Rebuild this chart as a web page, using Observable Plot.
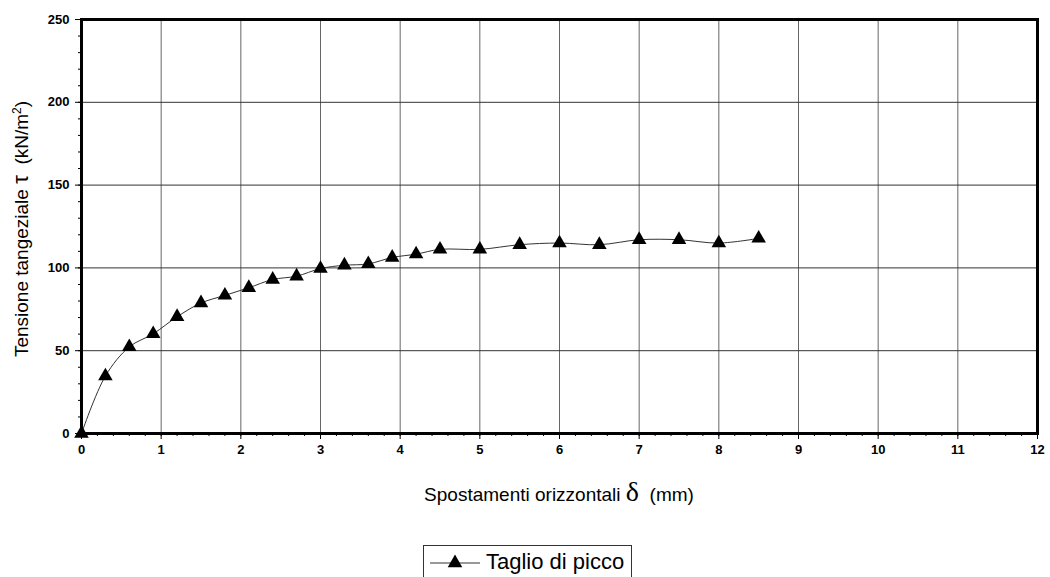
<!DOCTYPE html>
<html>
<head>
<meta charset="utf-8">
<script src="https://cdn.jsdelivr.net/npm/d3@7"></script>
<script src="https://cdn.jsdelivr.net/npm/@observablehq/plot@0.6"></script>
<style>
  html, body { margin: 0; padding: 0; background: #fff; }
  body { width: 1050px; height: 577px; overflow: hidden; font-family: "Liberation Sans", Arial, sans-serif; }
  #chart svg { display: block; }
  #chart svg g[aria-label$="tick label"] text { font-weight: bold; font-size: 13px; }
  #legend {
    margin-left: 423px; margin-top: 10px; width: 207px; height: 40px;
    border: 1px solid #333; box-sizing: content-box; display: flex; align-items: flex-start;
  }
  #legend svg { margin-top: 7px; margin-left: 6px; }
  #legend span { font-size: 22px; margin-left: 6px; margin-top: 3px; color: #000; }
</style>
</head>
<body>
<div id="chart"></div>
<div id="legend"></div>
<script>
// Data
const seriesName = "Taglio di picco";
const displacement = [0, 0.3, 0.6, 0.9, 1.2, 1.5, 1.8, 2.1, 2.4, 2.7, 3.0, 3.3, 3.6, 3.9, 4.2, 4.5, 5.0, 5.5, 6.0, 6.5, 7.0, 7.5, 8.0, 8.5];
const shearStress  = [0, 34.7, 52.3, 60.2, 70.5, 78.8, 83.4, 88.0, 93.0, 95.0, 99.6, 101.6, 102.4, 106.3, 108.3, 111.2, 111.2, 114.0, 115.0, 114.0, 117.0, 117.0, 115.0, 117.8];
const xTicks = [0, 1, 2, 3, 4, 5, 6, 7, 8, 9, 10, 11, 12];
const yTicks = [0, 50, 100, 150, 200, 250];
const xMinorStep = 0.2;
const yMinorStep = 10;

const data = displacement.map((x, i) => ({x, y: shearStress[i]}));
const xMinor = d3.range(0, 12 + 1e-9, xMinorStep);
const yMinor = d3.range(0, 250 + 1e-9, yMinorStep);

const W = 1050, H = 535, mL = 81, mR = 13, mT = 19, mB = 102;

const chart = Plot.plot({
  width: W, height: H,
  marginLeft: mL, marginRight: mR, marginTop: mT, marginBottom: mB,
  style: {fontFamily: "Liberation Sans, Arial, sans-serif", fontSize: "13px", color: "#000", background: "#fff"},
  x: {domain: [0, 12]},
  y: {domain: [0, 250]},
  marks: [
    Plot.gridX(xTicks, {stroke: "#666", strokeOpacity: 1, strokeWidth: 1}),
    Plot.gridY(yTicks, {stroke: "#333", strokeOpacity: 1, strokeWidth: 1}),
    Plot.axisX(xMinor, {tickSize: 3, text: null, label: null, stroke: "#000"}),
    Plot.axisX(xTicks, {tickSize: 6, tickPadding: 5, label: null, stroke: "#000", fontSize: 13, fontWeight: "bold", tickFormat: d => String(d)}),
    Plot.axisY(yMinor, {tickSize: 3, text: null, label: null, stroke: "#000"}),
    Plot.axisY(yTicks, {tickSize: 6, tickPadding: 6, label: null, stroke: "#000", fontSize: 13, fontWeight: "bold", tickFormat: d => String(d)}),
    Plot.line(data, {x: "x", y: "y", curve: "catmull-rom", stroke: "#333", strokeWidth: 1}),
    Plot.dot(data, {x: "x", y: "y", symbol: "triangle", r: 5.4, fill: "#000", stroke: "none"}),
    Plot.frame({stroke: "#000", strokeWidth: 3})
  ]
});
document.getElementById("chart").appendChild(chart);

// Axis titles with mixed glyph sizes
const svg = d3.select(chart);
const xt = svg.append("text")
  .attr("x", mL + (W - mL - mR) / 2).attr("y", 501)
  .attr("text-anchor", "middle")
  .style("font-family", "Liberation Sans, Arial, sans-serif")
  .style("font-size", "19px").style("white-space", "pre").attr("fill", "#000");
xt.append("tspan").text("Spostamenti orizzontali ");
xt.append("tspan").style("font-family", "Liberation Serif, serif").style("font-size", "28px").text("δ");
xt.append("tspan").text("  (mm)");

const yt = svg.append("text")
  .attr("transform", `translate(28, ${mT + (H - mT - mB) / 2 + 3}) rotate(-90)`)
  .attr("text-anchor", "middle")
  .style("font-family", "Liberation Sans, Arial, sans-serif")
  .style("font-size", "19px").style("white-space", "pre").attr("fill", "#000");
yt.append("tspan").text("Tensione tangeziale ");
yt.append("tspan").style("font-size", "22px").text("τ");
yt.append("tspan").text("  (kN/m");
yt.append("tspan").attr("dy", -7).style("font-size", "12px").text("2");
yt.append("tspan").attr("dy", 7).text(")");

// Legend
const leg = d3.select("#legend");
const ls = leg.append("svg").attr("width", 50).attr("height", 20);
ls.append("line").attr("x1", 0).attr("x2", 50).attr("y1", 10).attr("y2", 10).attr("stroke", "#333").attr("stroke-width", 1);
ls.append("path").attr("d", d3.symbol(d3.symbolTriangle, Math.PI * 5.4 * 5.4)()).attr("transform", "translate(25,10)").attr("fill", "#000");
leg.append("span").text(seriesName);
</script>
</body>
</html>
